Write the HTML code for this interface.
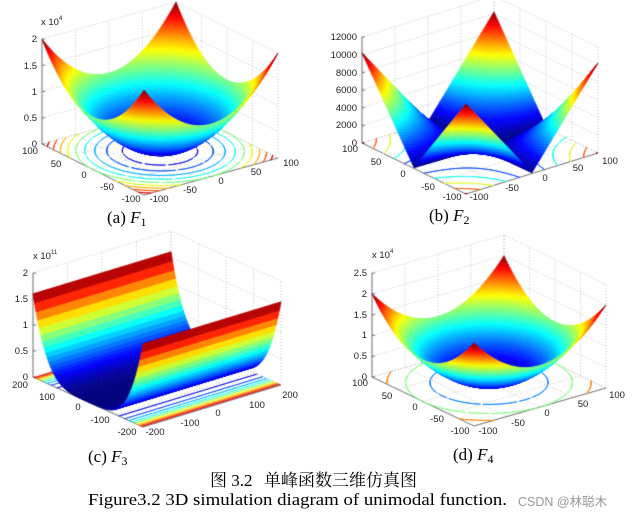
<!DOCTYPE html>
<html><head><meta charset="utf-8">
<style>
html,body{margin:0;padding:0;background:#fff;}
#wrap{position:relative;width:633px;height:524px;overflow:hidden;background:#fff;}
canvas,svg{position:absolute;left:0;top:0;}
.t{font-family:"Liberation Sans",sans-serif;font-size:9.5px;fill:#222;}
.cap{font-family:"Liberation Serif","Noto Serif CJK SC",serif;font-size:17px;fill:#000;}
</style></head><body>
<div id="wrap">
<canvas id="c" width="633" height="524"></canvas>
<svg width="633" height="524" xmlns="http://www.w3.org/2000/svg">
<g class="t" text-anchor="end">
<text x="37" y="147">0</text><text x="37" y="121">0.5</text><text x="37" y="95">1</text><text x="37" y="69">1.5</text><text x="37" y="42">2</text>
<text x="357" y="146">0</text><text x="357" y="128">2000</text><text x="357" y="111">4000</text><text x="357" y="93">6000</text><text x="357" y="76">8000</text><text x="357" y="58">10000</text><text x="357" y="40">12000</text>
<text x="28" y="380">0</text><text x="28" y="354">0.5</text><text x="28" y="328">1</text><text x="28" y="302">1.5</text><text x="28" y="276">2</text>
<text x="367" y="380">0</text><text x="367" y="359">0.5</text><text x="367" y="338">1</text><text x="367" y="318">1.5</text><text x="367" y="297">2</text><text x="367" y="276">2.5</text>
</g>
<g class="t" text-anchor="middle">
<text x="30" y="154">100</text><text x="56" y="167">50</text><text x="84" y="178">0</text><text x="107" y="190">-50</text><text x="131" y="202">-100</text>
<text x="159" y="202">-100</text><text x="190" y="193">-50</text><text x="221" y="184">0</text><text x="256" y="175">50</text><text x="291" y="166">100</text>
<text x="350" y="152">100</text><text x="376" y="165">50</text><text x="403" y="177">0</text><text x="428" y="190">-50</text><text x="452" y="200">-100</text>
<text x="479" y="200">-100</text><text x="512" y="191">-50</text><text x="545" y="181">0</text><text x="578" y="171">50</text><text x="610" y="164">100</text>
<text x="20" y="388">200</text><text x="47" y="400">100</text><text x="78" y="410">0</text><text x="100" y="423">-100</text><text x="127" y="435">-200</text>
<text x="155" y="435">-200</text><text x="190" y="426">-100</text><text x="218" y="416">0</text><text x="257" y="408">100</text><text x="290" y="398">200</text>
<text x="360" y="386">100</text><text x="387" y="399">50</text><text x="415" y="410">0</text><text x="437" y="422">-50</text><text x="460" y="434">-100</text>
<text x="488" y="434">-100</text><text x="518" y="426">-50</text><text x="547" y="416">0</text><text x="583" y="407">50</text><text x="617" y="398">100</text>
</g>
<g class="t" font-size="8.5">
<text x="41" y="25">x 10<tspan dy="-5" font-size="6">4</tspan></text>
<text x="33" y="259">x 10<tspan dy="-5" font-size="6">11</tspan></text>
<text x="372" y="258">x 10<tspan dy="-5" font-size="6">4</tspan></text>
</g>
<text class="cap" x="107" y="223">(a) <tspan font-style="italic">F</tspan><tspan font-size="12" dy="3">1</tspan></text>
<text class="cap" x="429" y="221">(b) <tspan font-style="italic">F</tspan><tspan font-size="12" dy="3">2</tspan></text>
<text class="cap" x="88" y="462">(c) <tspan font-style="italic">F</tspan><tspan font-size="12" dy="3">3</tspan></text>
<text class="cap" x="453" y="460">(d) <tspan font-style="italic">F</tspan><tspan font-size="12" dy="3">4</tspan></text>
<text class="cap" x="210" y="486" font-size="16">图 3.2</text>
<text class="cap" x="264" y="486" font-size="16">单峰函数三维仿真图</text>
<text class="cap" x="88" y="505" font-size="15.5" textLength="419" lengthAdjust="spacingAndGlyphs">Figure3.2 3D simulation diagram of unimodal function.</text>
<text x="518" y="506" font-family="Liberation Sans,'Noto Sans CJK SC',sans-serif" font-size="12.5" fill="#999">CSDN @林聪木</text>
</svg>
</div>
<script>
const ctx=document.getElementById('c').getContext('2d');
function cl(v){return Math.max(0,Math.min(1,v));}
function jet(t){t=cl(t);const r=cl(1.5-Math.abs(4*t-3)),g=cl(1.5-Math.abs(4*t-2)),b=cl(1.5-Math.abs(4*t-1));
return 'rgb('+Math.round(r*255)+','+Math.round(g*255)+','+Math.round(b*255)+')';}
function panel(o){
 const L=o.L,F=o.F,R=o.R,K=[L[0]+R[0]-F[0],L[1]+R[1]-F[1]];
 const P=(u,v,z)=>[L[0]+u*(F[0]-L[0])+v*(K[0]-L[0]), L[1]+u*(F[1]-L[1])+v*(K[1]-L[1])-z*o.zpx];
 const xy=(u,v)=>[o.rg-2*o.rg*u, -o.rg+2*o.rg*v];
 const line=(a,b)=>{ctx.beginPath();ctx.moveTo(a[0],a[1]);ctx.lineTo(b[0],b[1]);ctx.stroke();};
 ctx.strokeStyle='#aaa';ctx.lineWidth=0.7;ctx.setLineDash([1,2]);
 for(const z of o.ticks){line(P(0,0,z),P(0,1,z));line(P(0,1,z),P(1,1,z));}
 for(let i=0;i<=4;i++){const s=i/4;
  line(P(0,s,0),P(0,s,o.top));line(P(s,1,0),P(s,1,o.top));
  line(P(s,0,0),P(s,1,0));line(P(0,s,0),P(1,s,0));}
 ctx.setLineDash([]);
 ctx.strokeStyle='#555';ctx.lineWidth=0.8;
 line(P(0,0,0),P(0,0,o.top));line(P(0,0,0),P(1,0,0));line(P(1,0,0),P(1,1,0));
 for(const z of o.ticks){line(P(0,0,z),[P(0,0,z)[0]+3,P(0,0,z)[1]]);}
 const M=120,g=[];
 for(let i=0;i<=M;i++){g[i]=[];for(let j=0;j<=M;j++){const q=xy(i/M,j/M);g[i][j]=o.f(q[0],q[1]);}}
 ctx.lineWidth=0.9;ctx.lineCap='round';
 for(const c of o.levels){ctx.strokeStyle=jet(c/o.cmax);ctx.beginPath();
  for(let i=0;i<M;i++)for(let j=0;j<M;j++){
   const pts=[];const cs=[[i,j],[i+1,j],[i+1,j+1],[i,j+1]];
   for(let k=0;k<4;k++){const a=cs[k],b=cs[(k+1)%4];const va=g[a[0]][a[1]],vb=g[b[0]][b[1]];
    if((va-c)*(vb-c)<0){const t=(c-va)/(vb-va);pts.push([(a[0]+t*(b[0]-a[0]))/M,(a[1]+t*(b[1]-a[1]))/M]);}}
   if(pts.length>=2){const p1=P(pts[0][0],pts[0][1],0),p2=P(pts[1][0],pts[1][1],0);ctx.moveTo(p1[0],p1[1]);ctx.lineTo(p2[0],p2[1]);}
  }ctx.stroke();}
 ctx.lineCap='butt';
 const N=70,quads=[];
 for(let i=0;i<N;i++)for(let j=0;j<N;j++){
  const us=[i/N,(i+1)/N],vs=[j/N,(j+1)/N];
  const c=[[us[0],vs[0]],[us[1],vs[0]],[us[1],vs[1]],[us[0],vs[1]]];
  let zs=0;const pts=c.map(p=>{const q=xy(p[0],p[1]);const z=o.f(q[0],q[1]);zs+=z;return P(p[0],p[1],z);});
  const fc=P((us[0]+us[1])/2,(vs[0]+vs[1])/2,0);
  quads.push({pts,d:fc[1],col:jet((zs/4-o.cmin)/(o.cmax-o.cmin))});
 }
 quads.sort((a,b)=>a.d-b.d);
 ctx.lineWidth=0.7;
 for(const q of quads){ctx.fillStyle=q.col;ctx.strokeStyle=q.col;ctx.beginPath();
  ctx.moveTo(q.pts[0][0],q.pts[0][1]);for(let k=1;k<4;k++)ctx.lineTo(q.pts[k][0],q.pts[k][1]);ctx.closePath();ctx.fill();ctx.stroke();}
}
const lv=(a,b,s)=>{const r=[];for(let v=a;v<=b+1e-9;v+=s)r.push(v);return r;};
panel({L:[42,144],F:[144,195],R:[278,158],rg:100,top:2e4,zpx:105/2e4,ticks:[0,5e3,1e4,1.5e4,2e4],
 f:(x,y)=>x*x+y*y,cmin:0,cmax:2e4,levels:lv(2000,18000,2000)});
panel({L:[362,143],F:[466,194],R:[598,153],rg:100,top:12000,zpx:106/12000,ticks:[0,2000,4000,6000,8000,10000,12000],
 f:(x,y)=>Math.abs(x)+Math.abs(y)+Math.abs(x*y),cmin:0,cmax:10200,levels:lv(2000,10000,2000)});
panel({L:[33,377],F:[143,427],R:[281,385],rg:200,top:2e11,zpx:104/2e11,ticks:[0,5e10,1e11,1.5e11,2e11],
 f:(x,y)=>1.6e11*Math.pow(x/200,4),cmin:0,cmax:1.6e11,levels:lv(1.6e10,1.44e11,1.6e10)});
panel({L:[372,377],F:[474,426],R:[606,388],rg:100,top:2.5e4,zpx:104/2.5e4,ticks:[0,5e3,1e4,1.5e4,2e4,2.5e4],
 f:(x,y)=>x*x+y*y,cmin:0,cmax:2e4,levels:[5000,10000,15000]});
</script>
</body></html>
